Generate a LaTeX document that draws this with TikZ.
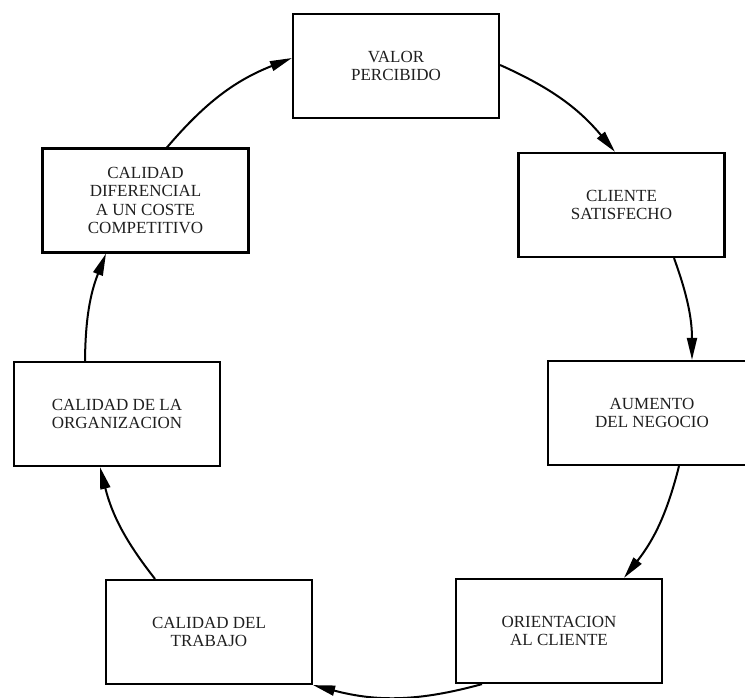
\documentclass[tikz,border=0pt]{standalone}
\usepackage{fontspec}
\setmainfont{Liberation Serif}
\usetikzlibrary{arrows.meta}
\begin{document}
\begin{tikzpicture}[x=1pt,y=-1pt,
  box/.style={draw, line width=2.2pt, minimum width=206pt, minimum height=104pt,
    align=center, inner sep=0pt, text=black!88,
    font=\fontsize{17}{18.4}\selectfont},
  flow/.style={line width=2pt, -{Triangle[length=22pt,width=10pt]}}]
\useasboundingbox (0,0) rectangle (745,697);
\node[box] (valor) at (396,66) {VALOR\\PERCIBIDO};
\node[box] (cliente) at (621.5,205) {CLIENTE\\SATISFECHO};
\node[box, minimum width=208pt] (aumento) at (652,413) {AUMENTO\\DEL NEGOCIO};
\node[box] (orient) at (559,631) {ORIENTACION\\AL CLIENTE};
\node[box] (trabajo) at (209,632) {CALIDAD DEL\\TRABAJO};
\node[box] (org) at (117,414) {CALIDAD DE LA\\ORGANIZACION};
\node[box] (cdif) at (145.5,200.5) {CALIDAD\\DIFERENCIAL\\A UN COSTE\\COMPETITIVO};
\draw[flow] ([xshift=21.5pt]cdif.north) to[bend left=14] ([yshift=8pt]valor.west);
\draw[flow] ([yshift=1pt]valor.east) to[bend left=13] ([xshift=-6.5pt]cliente.north);
\draw[flow] ([xshift=52.5pt]cliente.south) to[bend left=10] ([xshift=40pt]aumento.north);
\draw[flow] ([xshift=27pt]aumento.south) to[bend left=12] ([xshift=65pt]orient.north);
\draw[flow] ([xshift=-77pt]orient.south) to[bend left=15] (trabajo.south east);
\draw[flow] ([xshift=-54pt]trabajo.north) to[bend left=12] ([xshift=-17pt]org.south);
\draw[flow] ([xshift=-32pt]org.north) to[bend left=10.5] ([xshift=-39.5pt]cdif.south);
\end{tikzpicture}
\end{document}
